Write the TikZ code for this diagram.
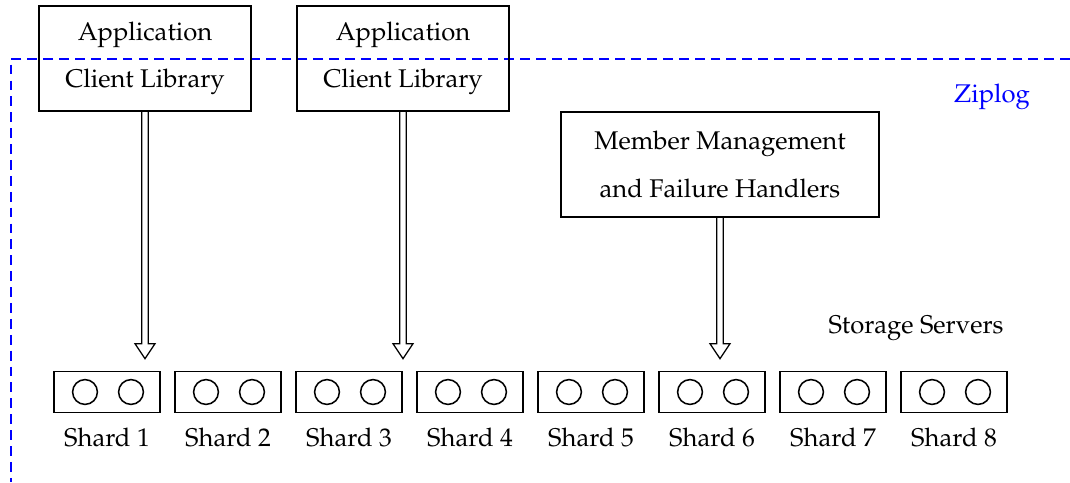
\documentclass[tikz,border=0pt]{standalone}
\usepackage[T1]{fontenc}
\usepackage{mathpazo}
\usetikzlibrary{calc}

% hollow double-shafted arrow from the bottom of #1 down to just above #2
\newcommand\dblarrow[2]{%
  \draw[arrowline] let \p1=(#1.south), \p2=(#2.north) in
    (\x1-2.3pt,\y1) -- (\x1-2.3pt,\y2+19.1pt) -- (\x1-7.1pt,\y2+19.1pt)
    -- (\x1,\y2+8.5pt) -- (\x1+7.1pt,\y2+19.1pt) -- (\x1+2.3pt,\y2+19.1pt)
    -- (\x1+2.3pt,\y1);}

\begin{document}
\begin{tikzpicture}[x=0.025cm,y=-0.025cm,
  every node/.style={font=\fontsize{18.2}{34}\selectfont},
  box/.style={draw, line width=1.3pt, align=center, inner sep=0pt},
  appbox/.style={box, minimum width=5.3cm, minimum height=2.625cm},
  mgmtbox/.style={box, minimum width=7.95cm, minimum height=2.625cm},
  shardbox/.style={box, minimum width=2.65cm, minimum height=1.025cm},
  disk/.style={circle, draw, line width=1.1pt, minimum size=0.62cm, inner sep=0pt},
  arrowline/.style={line width=0.9pt, line join=miter},
  zone/.style={blue, line width=1.3pt, dash pattern=on 7pt off 4.3pt}]

\useasboundingbox (0,0) rectangle (1070,482);

% boundary of the Ziplog system
\draw[zone] (1070,59) -| (11,482);
\node[blue] (ziplog) at (992,97) {Ziplog};

% clients and management
\node[appbox] (app1) at (145,58.5) {\raisebox{-1.5pt}{Application}\\\raisebox{-0.5pt}{Client Library}};
\node[appbox] (app2) at (403,58.5) {\raisebox{-1.5pt}{Application}\\\raisebox{-0.5pt}{Client Library}};
\node[mgmtbox] (mgmt) at (720,164.5) {Member Management\\and Failure Handlers};

\node (storage) at (916,328) {Storage Servers};

% shards with two disks each
\foreach \i in {1,...,8} {
  \pgfmathsetmacro\cx{107+121*(\i-1)}
  \node[shardbox] (s\i) at (\cx,392) {};
  \node[disk] (s\i a) at (\cx-22,392) {};
  \node[disk] (s\i b) at (\cx+24,392) {};
  \node (l\i) at (\cx,438) {Shard \i};
}

\dblarrow{app1}{s1}
\dblarrow{app2}{s3}
\dblarrow{mgmt}{s6}
\end{tikzpicture}
\end{document}
